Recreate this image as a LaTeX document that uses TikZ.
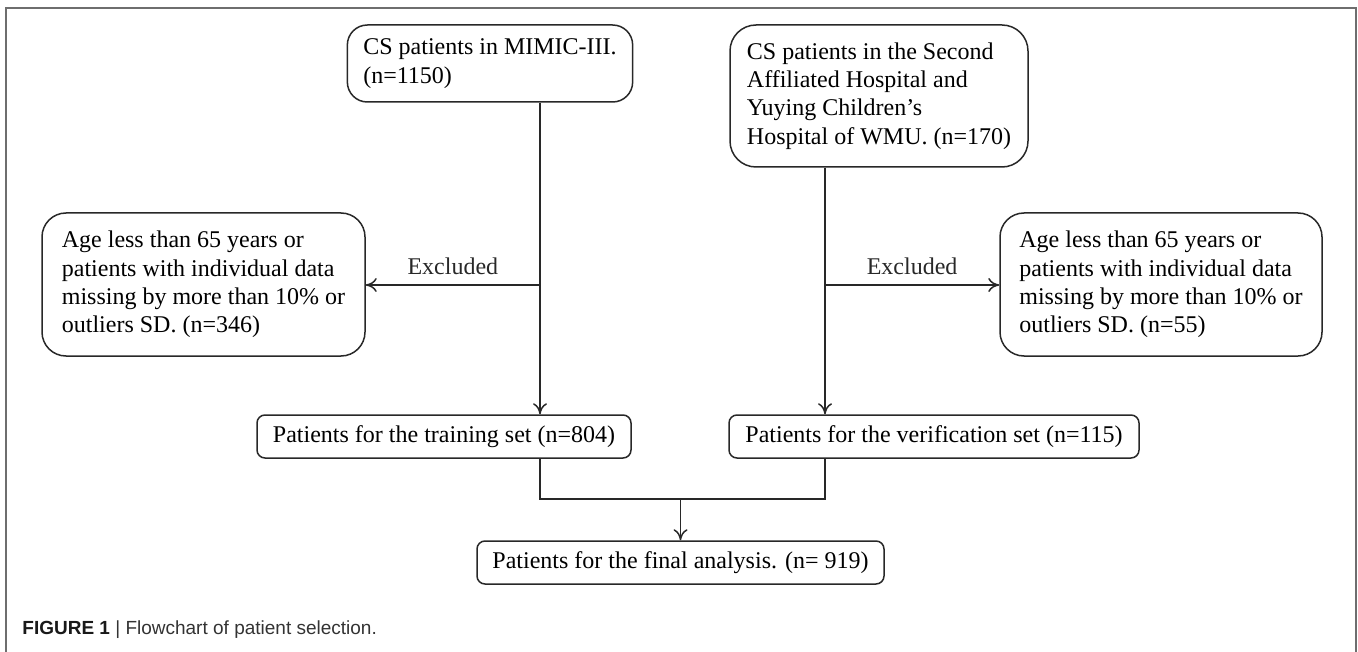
\documentclass[tikz,border=0pt]{standalone}
\usepackage{fontspec}
\setmainfont{Liberation Serif}
\newfontfamily\capfont{Liberation Sans}
\usepackage{tikz}
\usetikzlibrary{arrows.meta,positioning,calc}
\definecolor{lineblack}{RGB}{40,40,40}
\definecolor{framegray}{RGB}{110,110,110}
\tikzstyle{arrow} = [line width=0.75pt,->,>={To[length=5.5pt,width=7pt]},color=lineblack]
\tikzstyle{line} = [line width=0.75pt,color=lineblack]
\tikzstyle{patientbox} = [rectangle, rounded corners=10pt, draw=lineblack, line width=0.75pt, align=left, inner xsep=8pt, inner ysep=2pt, font=\fontsize{12}{14.2}\selectfont]
\tikzstyle{setbox} = [rectangle, rounded corners=4pt, draw=lineblack, line width=0.75pt, align=center, inner sep=2pt, minimum height=21.5pt, font=\fontsize{12}{14.2}\selectfont]

\begin{document}
\begin{tikzpicture}[x=0.5pt, y=-0.5pt]
    \useasboundingbox (0,0) rectangle (1358,652);

    % Figure frame
    \draw[framegray, line width=1.2pt] (6,652) -- (6,8) -- (1356,8) -- (1356,652);

    % Source cohorts
    \node[patientbox, minimum width=142pt, minimum height=38.5pt] (mimic) at (490, 63.5) {CS patients in MIMIC-III.\\(n=1150)};
    \node[patientbox, rounded corners=13pt, minimum width=149pt, minimum height=71pt] (wmu) at (879, 96) {CS patients in the Second\\Affiliated Hospital and\\Yuying Children's\\Hospital of WMU. (n=170)};

    % Exclusions
    \node[patientbox, rounded corners=12pt, minimum width=161.5pt, minimum height=71.5pt] (exclleft) at (203.5, 284.5) {Age less than 65 years or\\patients with individual data\\missing by more than 10\% or\\outliers SD. (n=346)};
    \node[patientbox, rounded corners=12pt, minimum width=161pt, minimum height=71.5pt] (exclright) at (1161, 284.5) {Age less than 65 years or\\patients with individual data\\missing by more than 10\% or\\outliers SD. (n=55)};

    % Sets
    \node[setbox, minimum width=187pt] (train) at (444, 436.5) {Patients for the training set (n=804)};
    \node[setbox, minimum width=205pt] (verif) at (934, 436.5) {Patients for the verification set (n=115)};
    \node[setbox, minimum width=203.5pt] (final) at (680.5, 562.5) {Patients for the final analysis. (n= 919)};

    % Branch points
    \coordinate (lsplit) at (540, 285);
    \coordinate (rsplit) at (825, 285);
    \coordinate (merge) at (680.5, 499);

    % Arrows
    \draw[arrow] (lsplit |- mimic.south) -- (lsplit |- train.north);
    \draw[arrow] (rsplit |- wmu.south) -- (rsplit |- verif.north);
    \draw[arrow] (lsplit) -- node[above, yshift=1.5pt, font=\fontsize{12}{14.2}\selectfont] (exclLabelL) {Excluded} (lsplit -| exclleft.east);
    \draw[arrow] (rsplit) -- node[above, yshift=1.5pt, font=\fontsize{12}{14.2}\selectfont] (exclLabelR) {Excluded} (rsplit -| exclright.west);
    \draw[line] (lsplit |- train.south) -- (lsplit |- merge) -- (rsplit |- merge) -- (rsplit |- verif.south);
    \draw[arrow] (merge) -- (final.north);

    % Caption
    \node[anchor=base west, inner sep=0pt, font=\capfont\fontsize{9.5}{11}\selectfont, text=black!80] (caption) at (22, 634) {\textbf{\color{black!90}FIGURE 1} | Flowchart of patient selection.};
\end{tikzpicture}
\end{document}
